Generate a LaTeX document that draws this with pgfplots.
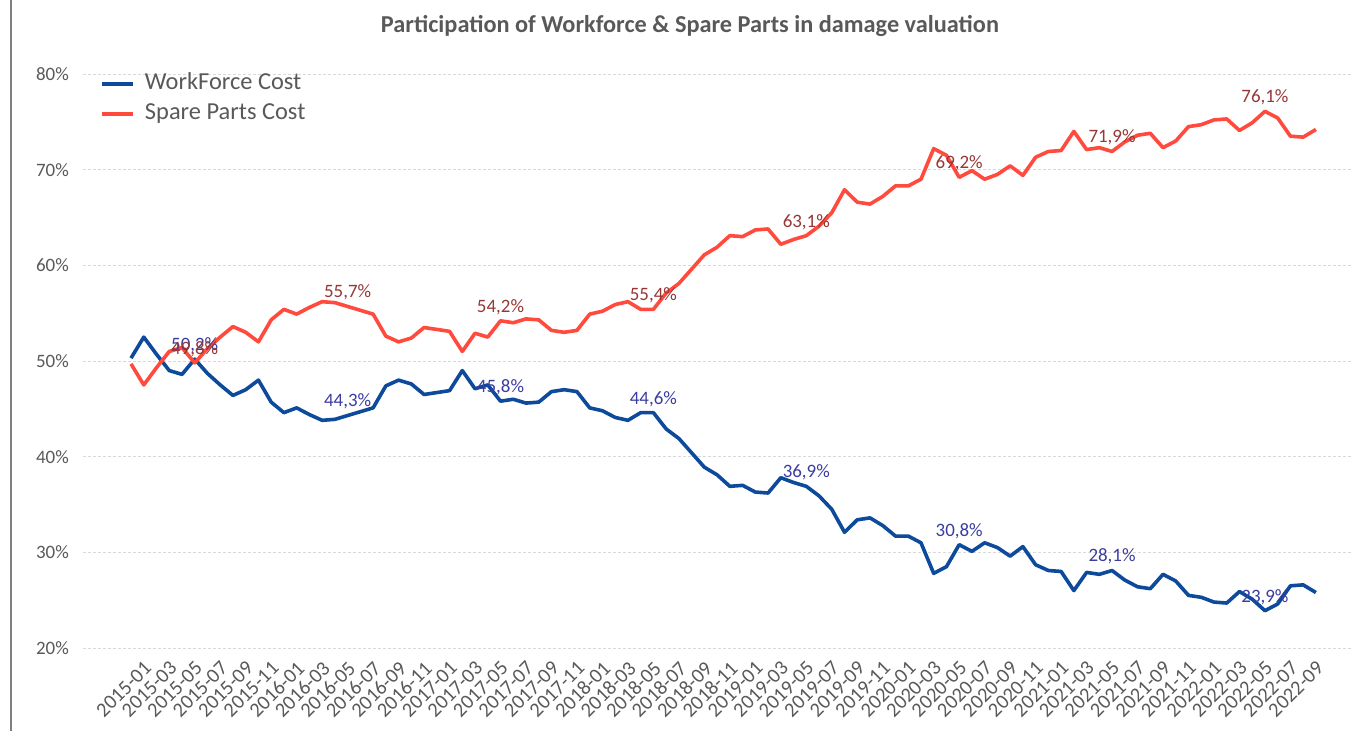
\documentclass[border=0pt]{standalone}
\usepackage{fontspec}
\setmainfont{Carlito}
\usepackage{pgfplots}
\pgfplotsset{compat=1.18}
\usepackage{pgfplotstable}
\definecolor{wfblue}{HTML}{0D4A9C}
\definecolor{spred}{HTML}{FF4A3D}
\definecolor{wflab}{HTML}{3C3CA0}
\definecolor{splab}{HTML}{953735}
\definecolor{textgray}{HTML}{595959}
\definecolor{gridgray}{HTML}{D9D9D9}
\definecolor{leftline}{HTML}{7F7F7F}

\pgfplotstableread{
i red blue
0 49.7 50.3
1 47.5 52.5
2 49.3 50.7
3 51.0 49.0
4 51.4 48.6
5 49.8 50.2
6 51.3 48.7
7 52.5 47.5
8 53.6 46.4
9 53.0 47.0
10 52.0 48.0
11 54.3 45.7
12 55.4 44.6
13 54.9 45.1
14 55.6 44.4
15 56.2 43.8
16 56.1 43.9
17 55.7 44.3
18 55.3 44.7
19 54.9 45.1
20 52.6 47.4
21 52.0 48.0
22 52.4 47.6
23 53.5 46.5
24 53.3 46.7
25 53.1 46.9
26 51.0 49.0
27 52.9 47.1
28 52.5 47.5
29 54.2 45.8
30 54.0 46.0
31 54.4 45.6
32 54.3 45.7
33 53.2 46.8
34 53.0 47.0
35 53.2 46.8
36 54.9 45.1
37 55.2 44.8
38 55.9 44.1
39 56.2 43.8
40 55.4 44.6
41 55.4 44.6
42 57.1 42.9
43 58.1 41.9
44 59.6 40.4
45 61.1 38.9
46 61.9 38.1
47 63.1 36.9
48 63.0 37.0
49 63.7 36.3
50 63.8 36.2
51 62.2 37.8
52 62.7 37.3
53 63.1 36.9
54 64.1 35.9
55 65.5 34.5
56 67.9 32.1
57 66.6 33.4
58 66.4 33.6
59 67.2 32.8
60 68.3 31.7
61 68.3 31.7
62 69.0 31.0
63 72.2 27.8
64 71.5 28.5
65 69.2 30.8
66 69.9 30.1
67 69.0 31.0
68 69.5 30.5
69 70.4 29.6
70 69.4 30.6
71 71.3 28.7
72 71.9 28.1
73 72.0 28.0
74 74.0 26.0
75 72.1 27.9
76 72.3 27.7
77 71.9 28.1
78 72.9 27.1
79 73.6 26.4
80 73.8 26.2
81 72.3 27.7
82 73.0 27.0
83 74.5 25.5
84 74.7 25.3
85 75.2 24.8
86 75.3 24.7
87 74.1 25.9
88 74.9 25.1
89 76.1 23.9
90 75.4 24.6
91 73.5 26.5
92 73.4 26.6
93 74.2 25.8
}\data

\pgfplotstableread{
i red redlab blue bluelab
5 49.8 49,8 50.2 50,2
17 55.7 55,7 44.3 44,3
29 54.2 54,2 45.8 45,8
41 55.4 55,4 44.6 44,6
53 63.1 63,1 36.9 36,9
65 69.2 69,2 30.8 30,8
77 71.9 71,9 28.1 28,1
89 76.1 76,1 23.9 23,9
}\labels

\begin{document}
\begin{tikzpicture}
\path[use as bounding box] (-83bp,-83bp) rectangle (1271bp,648bp);
\draw[color=leftline, line width=1.5bp] (-72bp,-83bp) -- (-72bp,648bp);
\begin{axis}[
  at={(0,0)}, anchor=south west,
  scale only axis, width=1269bp, height=574bp,
  xmin=-3.77, xmax=95.83, ymin=20, ymax=80,
  axis line style={draw=none},
  major tick length=0pt,
  clip=false,
  ytick={20,30,40,50,60,70,80},
  yticklabels={20\%,30\%,40\%,50\%,60\%,70\%,80\%},
  ymajorgrids,
  grid style={gridgray, dash pattern=on 3bp off 2bp, line width=0.9bp},
  xtick={0,2,...,92},
  xticklabels={2015-01,2015-03,2015-05,2015-07,2015-09,2015-11,
    2016-01,2016-03,2016-05,2016-07,2016-09,2016-11,
    2017-01,2017-03,2017-05,2017-07,2017-09,2017-11,
    2018-01,2018-03,2018-05,2018-07,2018-09,2018-11,
    2019-01,2019-03,2019-05,2019-07,2019-09,2019-11,
    2020-01,2020-03,2020-05,2020-07,2020-09,2020-11,
    2021-01,2021-03,2021-05,2021-07,2021-09,2021-11,
    2022-01,2022-03,2022-05,2022-07,2022-09},
  xticklabel style={rotate=45, anchor=north east, inner sep=1bp, yshift=-16bp, xshift=1bp,
    font=\fontsize{20.5}{22}\selectfont, text=textgray},
  yticklabel style={font=\fontsize{19}{21}\selectfont, text=textgray, inner sep=0pt, xshift=-14bp},
  legend style={at={(0.0134,0.957)}, anchor=west, draw=none, fill=none,
    font=\fontsize{24.5}{28}\selectfont, text=textgray, inner sep=0pt,
    row sep=4bp,
    nodes={text height=17bp, text depth=5bp}},
  legend cell align=left,
  legend image code/.code={\draw[#1, line width=4bp] (0bp,0bp) -- (31bp,0bp);
    \path (39bp,0bp);},
]
\addplot[wfblue, line width=3.6bp, line join=round] table[x=i, y=blue] {\data};
\addlegendentry{WorkForce Cost}
\addplot[spred, line width=3.6bp, line join=round] table[x=i, y=red] {\data};
\addlegendentry{Spare Parts Cost}
\addplot[draw=none, mark=none, forget plot, point meta=explicit symbolic,
  nodes near coords={\pgfplotspointmeta\%},
  nodes near coords style={anchor=south, inner sep=0pt, yshift=6bp, text=wflab,
    font=\fontsize{19}{21}\selectfont}]
  table[x=i, y=blue, meta=bluelab] {\labels};
\addplot[draw=none, mark=none, forget plot, point meta=explicit symbolic,
  nodes near coords={\pgfplotspointmeta\%},
  nodes near coords style={anchor=south, inner sep=0pt, yshift=6bp, text=splab,
    font=\fontsize{19}{21}\selectfont}]
  table[x=i, y=red, meta=redlab] {\labels};
\end{axis}
\node[font=\bfseries\fontsize{24.4}{28}\selectfont, text=textgray] at (607bp,622bp)
  {Participation of Workforce \& Spare Parts in damage valuation};
\end{tikzpicture}
\end{document}
